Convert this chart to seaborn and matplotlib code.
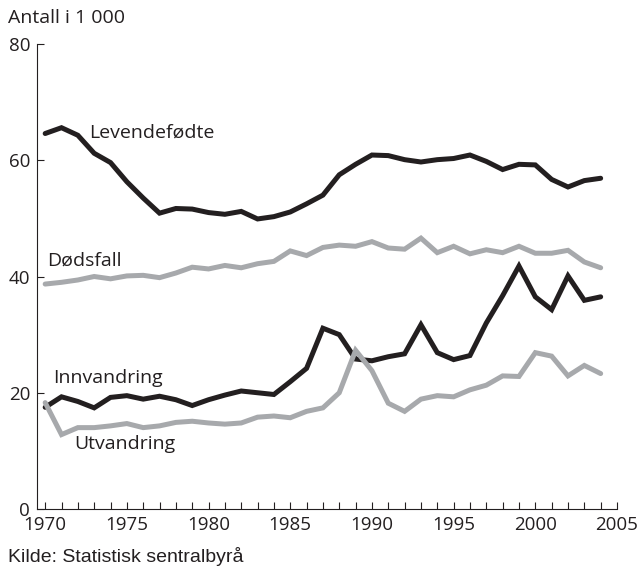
import matplotlib
matplotlib.use("Agg")
import matplotlib.pyplot as plt
import seaborn as sns
import pandas as pd

years = list(range(1970, 2005))
levendefodte = [64.6, 65.6, 64.3, 61.2, 59.6, 56.3, 53.5, 50.9, 51.7, 51.6,
                51.0, 50.7, 51.2, 49.9, 50.3, 51.1, 52.5, 54.0, 57.5, 59.3,
                60.9, 60.8, 60.1, 59.7, 60.1, 60.3, 60.9, 59.8, 58.4, 59.3,
                59.2, 56.7, 55.4, 56.5, 56.9]
dodsfall = [38.7, 39.0, 39.4, 40.0, 39.6, 40.1, 40.2, 39.8, 40.6, 41.6,
            41.3, 41.9, 41.5, 42.2, 42.6, 44.4, 43.6, 45.0, 45.4, 45.2,
            46.0, 44.9, 44.7, 46.6, 44.1, 45.2, 43.9, 44.6, 44.1, 45.2,
            44.0, 44.0, 44.5, 42.5, 41.5]
innvandring = [17.5, 19.3, 18.5, 17.4, 19.2, 19.5, 18.9, 19.4, 18.8, 17.8,
               18.8, 19.6, 20.3, 20.0, 19.7, 21.9, 24.2, 31.1, 30.0, 25.8,
               25.5, 26.2, 26.7, 31.7, 26.9, 25.7, 26.4, 32.0, 36.7, 41.8,
               36.5, 34.3, 40.1, 35.9, 36.5]
utvandring = [18.3, 12.8, 14.0, 14.0, 14.3, 14.7, 14.0, 14.3, 14.9, 15.1,
              14.8, 14.6, 14.8, 15.8, 16.0, 15.7, 16.8, 17.4, 20.0, 27.3,
              23.8, 18.2, 16.8, 18.9, 19.5, 19.3, 20.5, 21.3, 22.9, 22.8,
              26.9, 26.3, 22.9, 24.7, 23.3]
series_names = ["Levendefødte", "Dødsfall", "Innvandring", "Utvandring"]
series_colors = ["#231f20", "#a7a9ac", "#231f20", "#a7a9ac"]
x_ticks_major = [1970, 1975, 1980, 1985, 1990, 1995, 2000, 2005]
y_ticks = [0, 20, 40, 60, 80]

frames = []
for name, vals in zip(series_names, [levendefodte, dodsfall, innvandring, utvandring]):
    frames.append(pd.DataFrame({"year": years, "value": vals, "series": name}))
df = pd.concat(frames, ignore_index=True)

sns.set_style("ticks")
plt.rcParams["font.family"] = ["Open Sans", "DejaVu Sans"]

fig = plt.figure(figsize=(6.43, 5.72), dpi=100)
ax = fig.add_axes([37/643, 1-509/572, (617-37)/643, (509-44)/572])

sns.lineplot(data=df, x="year", y="value", hue="series", hue_order=series_names,
             palette=dict(zip(series_names, series_colors)), linewidth=3.6,
             legend=False, ax=ax, solid_joinstyle="miter")

ax.set_xlim(1969.5, 2005)
ax.set_ylim(0, 80)
ax.set_xticks(x_ticks_major)
ax.set_xticks(list(range(1970, 2006)), minor=True)
ax.set_yticks(y_ticks)
ax.tick_params(axis="x", which="both", direction="in", length=5, width=0.8,
               labelsize=13.5, colors="#231f20", pad=5)
ax.tick_params(axis="y", which="both", direction="in", length=5, width=0.8,
               labelsize=13.5, colors="#231f20", pad=5)
ax.set_xlabel("")
ax.set_ylabel("")
for s in ["top", "right"]:
    ax.spines[s].set_visible(False)
for s in ["left", "bottom"]:
    ax.spines[s].set_linewidth(0.8)
    ax.spines[s].set_color("#231f20")

lbl = dict(fontsize=14, color="#231f20", va="center", ha="left")
ax.text(1972.7, 64.8, "Levendefødte", **lbl)
ax.text(1970.15, 42.8, "Dødsfall", **lbl)
ax.text(1970.5, 22.5, "Innvandring", **lbl)
ax.text(1971.8, 11.2, "Utvandring", **lbl)

fig.text(8/643, 1-18/572, "Antall i 1 000", fontsize=14, color="#231f20",
         va="center", ha="left")
fig.text(8/643, 1-556/572, "Kilde: Statistisk sentralbyrå", fontsize=14,
         color="#231f20", va="center", ha="left", family=["Liberation Sans"])

fig.savefig("out.png", dpi=100)
